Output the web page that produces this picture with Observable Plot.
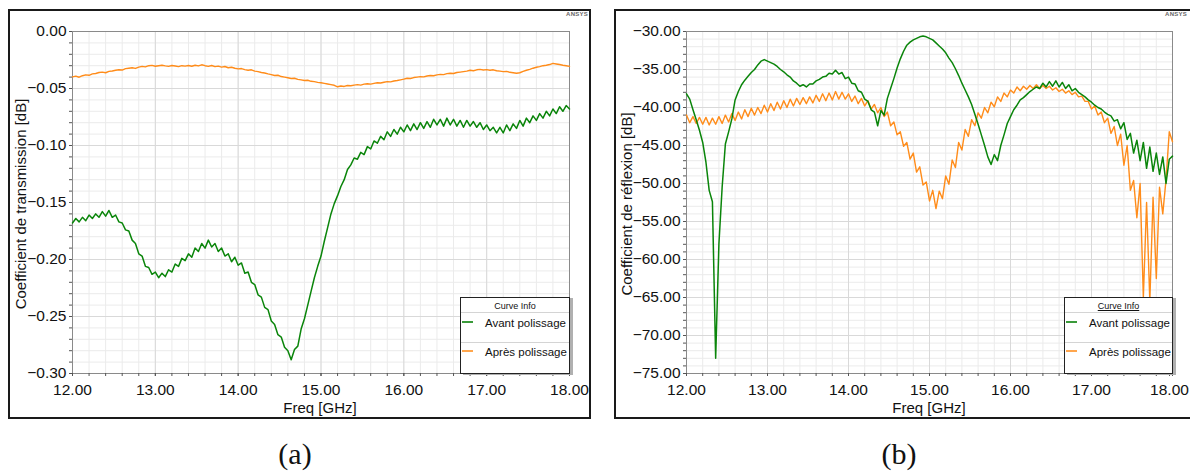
<!DOCTYPE html>
<html><head><meta charset="utf-8">
<script src="https://cdn.jsdelivr.net/npm/d3@7"></script>
<script src="https://cdn.jsdelivr.net/npm/@observablehq/plot@0.6"></script>
<style>
html,body{margin:0;padding:0;background:#fff;}
#root{position:relative;width:1190px;height:473px;overflow:hidden;font-family:"Liberation Sans",Arial,sans-serif;color:#111;}
.frame{position:absolute;border:2px solid #1a1a1a;box-sizing:border-box;}
.plot{position:absolute;top:0;}
.ytitle{position:absolute;font-size:15px;line-height:15px;white-space:nowrap;transform:translate(-50%,-50%) rotate(-90deg);}
.xtitle{position:absolute;font-size:15px;line-height:15px;white-space:nowrap;transform:translateX(-50%);}
.ansys{position:absolute;font-size:6px;font-weight:bold;color:#666;letter-spacing:0.3px;}
.legend{position:absolute;background:#fff;border:1px solid #222;box-shadow:3px 1px 0 #b0b0b0;box-sizing:border-box;}
.lh{position:absolute;top:3px;left:0;width:100%;text-align:center;font-size:9px;line-height:11px;}
.sep{position:absolute;left:0;right:0;height:1px;background:#d4d4d4;}
.sw{position:absolute;left:1px;width:11px;height:1.5px;}
.lt{position:absolute;left:24px;font-size:11.5px;line-height:14px;white-space:nowrap;}
.cap{position:absolute;font-family:"Liberation Serif","Times New Roman",serif;font-size:30px;line-height:30px;transform:translateX(-50%);}
</style>
</head>
<body>
<div id="root">
  <div class="frame" style="left:8px;top:9px;width:583px;height:410px"></div>
  <div class="frame" style="left:614px;top:9px;width:590px;height:410px"></div>
  <div id="pa" class="plot" style="left:0px"></div>
  <div id="pb" class="plot" style="left:595px"></div>
  <div class="ansys" style="left:566px;top:11px">ANSYS</div>
  <div class="ansys" style="left:1165px;top:11px">ANSYS</div>
  <div class="ytitle" style="left:19.5px;top:204px">Coefficient de transmission [dB]</div>
  <div class="ytitle" style="left:626px;top:204px">Coefficient de réflexion [dB]</div>
  <div class="xtitle" style="left:320px;top:400px">Freq [GHz]</div>
  <div class="xtitle" style="left:929px;top:400px">Freq [GHz]</div>
  <div class="legend" style="left:460px;top:297px;width:110px;height:77px">
    <div class="lh">Curve Info</div>
    <div class="sep" style="top:14px"></div>
    <div class="sw" style="top:23px;background:#3a9a3a"></div>
    <div class="lt" style="top:18px">Avant polissage</div>
    <div class="sep" style="top:44px"></div>
    <div class="sw" style="top:52px;background:#ffa64d"></div>
    <div class="lt" style="top:47px">Après polissage</div>
  </div>
  <div class="legend" style="left:1064px;top:297px;width:109px;height:77px">
    <div class="lh"><u>Curve Info</u></div>
    <div class="sep" style="top:14px"></div>
    <div class="sw" style="top:23px;background:#3a9a3a"></div>
    <div class="lt" style="top:18px">Avant polissage</div>
    <div class="sep" style="top:44px"></div>
    <div class="sw" style="top:52px;background:#ffa64d"></div>
    <div class="lt" style="top:47px">Après polissage</div>
  </div>
  <div class="cap" style="left:295px;top:439px">(a)</div>
  <div class="cap" style="left:899px;top:439px">(b)</div>
</div>
<script>
// Frequency sampling grid (GHz), 12.00 to 18.00 every 0.04
const freq = d3.range(151).map(i => +(12 + i * 0.04).toFixed(2));

// (a) transmission coefficient [dB]
const transAvant = [
-0.168,-0.164,-0.167,-0.163,-0.166,-0.161,-0.164,-0.160,-0.163,-0.158,
-0.162,-0.157,-0.163,-0.161,-0.167,-0.168,-0.174,-0.175,-0.183,-0.186,
-0.195,-0.197,-0.206,-0.207,-0.213,-0.211,-0.216,-0.212,-0.215,-0.209,
-0.211,-0.204,-0.206,-0.199,-0.201,-0.195,-0.198,-0.190,-0.193,-0.186,
-0.190,-0.183,-0.189,-0.186,-0.193,-0.190,-0.197,-0.195,-0.202,-0.198,
-0.205,-0.203,-0.212,-0.211,-0.220,-0.222,-0.231,-0.233,-0.242,-0.244,
-0.254,-0.257,-0.266,-0.268,-0.277,-0.280,-0.288,-0.279,-0.276,-0.261,
-0.252,-0.240,-0.228,-0.216,-0.206,-0.197,-0.184,-0.172,-0.160,-0.151,
-0.144,-0.136,-0.130,-0.121,-0.117,-0.111,-0.112,-0.106,-0.108,-0.101,
-0.103,-0.096,-0.098,-0.092,-0.095,-0.088,-0.092,-0.086,-0.090,-0.084,
-0.088,-0.082,-0.087,-0.081,-0.086,-0.080,-0.085,-0.079,-0.084,-0.077,
-0.082,-0.077,-0.083,-0.076,-0.082,-0.077,-0.083,-0.078,-0.084,-0.078,
-0.083,-0.079,-0.084,-0.080,-0.086,-0.082,-0.087,-0.084,-0.089,-0.084,
-0.089,-0.082,-0.087,-0.081,-0.085,-0.078,-0.083,-0.076,-0.080,-0.074,
-0.078,-0.072,-0.076,-0.070,-0.074,-0.068,-0.072,-0.066,-0.070,-0.065,
-0.068];
const transApres = [
-0.0398,-0.0392,-0.0401,-0.0388,-0.0380,-0.0384,-0.0372,-0.0368,-0.0360,-0.0356,
-0.0362,-0.0350,-0.0346,-0.0340,-0.0335,-0.0338,-0.0326,-0.0322,-0.0318,-0.0324,
-0.0312,-0.0306,-0.0310,-0.0300,-0.0297,-0.0305,-0.0300,-0.0296,-0.0302,-0.0306,
-0.0298,-0.0303,-0.0308,-0.0300,-0.0304,-0.0298,-0.0305,-0.0296,-0.0302,-0.0292,
-0.0300,-0.0306,-0.0298,-0.0308,-0.0304,-0.0312,-0.0307,-0.0318,-0.0314,-0.0322,
-0.0328,-0.0325,-0.0334,-0.0340,-0.0336,-0.0348,-0.0352,-0.0360,-0.0364,-0.0372,
-0.0378,-0.0386,-0.0384,-0.0395,-0.0400,-0.0406,-0.0412,-0.0410,-0.0420,-0.0424,
-0.0430,-0.0428,-0.0437,-0.0440,-0.0446,-0.0450,-0.0455,-0.0460,-0.0466,-0.0472,
-0.0485,-0.0478,-0.0482,-0.0474,-0.0476,-0.0470,-0.0466,-0.0470,-0.0462,-0.0458,
-0.0462,-0.0455,-0.0450,-0.0452,-0.0445,-0.0440,-0.0442,-0.0434,-0.0430,-0.0424,
-0.0418,-0.0410,-0.0412,-0.0404,-0.0400,-0.0396,-0.0398,-0.0390,-0.0386,-0.0388,
-0.0380,-0.0376,-0.0378,-0.0370,-0.0366,-0.0368,-0.0360,-0.0356,-0.0352,-0.0348,
-0.0340,-0.0344,-0.0336,-0.0332,-0.0338,-0.0334,-0.0340,-0.0336,-0.0344,-0.0348,
-0.0352,-0.0350,-0.0358,-0.0362,-0.0366,-0.0362,-0.0350,-0.0340,-0.0332,-0.0322,
-0.0314,-0.0308,-0.0300,-0.0296,-0.0290,-0.0280,-0.0285,-0.0290,-0.0296,-0.0300,
-0.0306];

// (b) reflection coefficient [dB]
const reflAvant = [
-38.2,-38.9,-40.3,-41.6,-43.0,-44.6,-47.2,-50.9,-52.4,-73.0,
-58.0,-50.5,-44.8,-43.2,-41.5,-39.0,-37.9,-37.0,-36.4,-35.9,
-35.4,-35.0,-34.4,-33.9,-33.7,-33.9,-34.1,-34.3,-34.6,-35.0,
-35.3,-35.7,-36.0,-36.5,-36.8,-37.2,-37.0,-37.3,-36.9,-36.9,
-36.5,-36.3,-36.0,-35.9,-35.5,-35.6,-35.1,-35.6,-35.4,-36.2,
-36.0,-36.8,-36.9,-37.8,-38.0,-38.9,-39.2,-40.3,-40.6,-42.4,
-40.4,-41.0,-38.8,-37.5,-36.2,-34.8,-33.6,-32.6,-31.8,-31.4,
-31.1,-30.9,-30.7,-30.6,-30.7,-30.9,-31.1,-31.5,-31.9,-32.3,
-32.8,-33.5,-34.1,-34.9,-35.8,-36.8,-37.7,-38.6,-39.6,-40.9,
-42.2,-43.6,-45.0,-46.5,-47.5,-46.2,-47.0,-45.0,-43.6,-42.1,
-41.2,-40.3,-39.7,-39.0,-38.7,-38.3,-37.9,-37.6,-37.3,-37.5,
-36.8,-37.3,-36.6,-37.2,-36.5,-37.3,-36.7,-37.5,-37.0,-37.8,
-37.5,-38.0,-38.3,-38.6,-39.0,-39.3,-39.7,-40.0,-40.2,-40.6,
-40.9,-41.1,-41.8,-41.6,-42.8,-42.0,-44.2,-43.4,-46.0,-44.3,
-47.0,-44.6,-48.0,-45.2,-48.4,-46.0,-48.8,-46.5,-50.0,-46.8,
-46.4];
const reflApres = [
-41.0,-42.0,-41.2,-42.1,-41.3,-42.2,-41.3,-42.3,-41.4,-42.2,
-41.2,-42.1,-41.0,-41.9,-40.8,-41.7,-40.6,-41.5,-40.3,-41.2,
-40.1,-41.0,-40.0,-40.8,-39.7,-40.6,-39.5,-40.4,-39.3,-40.2,
-39.1,-40.0,-38.9,-39.8,-38.8,-39.6,-38.7,-39.5,-38.6,-39.4,
-38.4,-39.2,-38.2,-39.1,-38.1,-39.0,-37.9,-38.9,-38.0,-38.9,
-38.2,-39.2,-38.5,-39.5,-38.8,-39.8,-39.1,-40.2,-39.6,-40.7,
-40.0,-41.2,-40.6,-42.4,-41.9,-43.6,-43.2,-45.1,-44.6,-46.8,
-46.0,-48.5,-47.8,-50.2,-49.8,-52.3,-50.9,-53.3,-51.0,-52.0,
-49.0,-50.1,-46.9,-47.9,-44.6,-45.6,-42.9,-43.8,-41.6,-42.4,
-40.7,-41.4,-40.0,-40.7,-39.3,-39.9,-38.6,-39.2,-38.1,-38.6,
-37.7,-38.1,-37.3,-37.8,-37.2,-37.6,-37.1,-37.5,-37.0,-37.5,
-37.1,-37.5,-37.2,-37.7,-37.4,-37.9,-37.6,-38.1,-37.8,-38.3,
-38.0,-38.6,-38.5,-39.2,-39.2,-40.2,-39.8,-41.0,-40.6,-42.0,
-41.4,-43.4,-42.5,-45.0,-43.5,-47.6,-45.0,-50.9,-49.6,-54.5,
-50.0,-65.0,-52.5,-65.5,-51.8,-62.5,-50.5,-54.0,-49.5,-43.2,
-44.5];

// Axis ticks
const xMajor = [12, 13, 14, 15, 16, 17, 18];
const xMinor = d3.range(0, 31).map(i => 12 + i * 0.2);
const yMajorA = [0, -0.05, -0.10, -0.15, -0.20, -0.25, -0.30];
const yMinorA = d3.range(0, 31).map(i => -i / 100);
const yMajorB = [-30, -35, -40, -45, -50, -55, -60, -65, -70, -75];
const yMinorB = d3.range(0, 46).map(i => -30 - i);

const GREEN = "#0a850a";
const ORANGE = "#ff8c1a";
const fmt = d3.format(".2f");
const style = {fontFamily: "'Liberation Sans', Arial, sans-serif", fontSize: "15.5px", color: "#111", background: "none", overflow: "visible"};

function panel({width, marginLeft, marginRight, yDomain, yMajor, yMinor, avant, apres, lastDx}) {
  const A = freq.map((f, i) => ({f, v: avant[i]}));
  const B = freq.map((f, i) => ({f, v: apres[i]}));
  return Plot.plot({
    width, height: 430,
    marginLeft, marginRight, marginTop: 31, marginBottom: 57,
    x: {domain: [12, 18]},
    y: {domain: yDomain},
    style,
    marks: [
      Plot.gridX(xMinor, {stroke: "#ebebeb", strokeOpacity: 1}),
      Plot.gridY(yMinor, {stroke: "#ebebeb", strokeOpacity: 1}),
      Plot.gridX(xMajor, {stroke: "#d9d9d9", strokeOpacity: 1}),
      Plot.gridY(yMajor, {stroke: "#d9d9d9", strokeOpacity: 1}),
      Plot.frame({stroke: "#8a8a8a"}),
      Plot.axisX(xMinor, {tickSize: 3, tickFormat: () => "", stroke: "#555", label: null}),
      Plot.axisX(xMajor.slice(0, -1), {tickSize: 3, tickPadding: 7, tickFormat: fmt, fontSize: 15.5, stroke: "#555", label: null}),
      Plot.axisX(xMajor.slice(-1), {tickSize: 3, tickPadding: 7, tickFormat: fmt, fontSize: 15.5, stroke: "#555", label: null, dx: lastDx}),
      Plot.axisY(yMinor, {tickSize: 3, tickFormat: () => "", stroke: "#555", label: null}),
      Plot.axisY(yMajor, {tickSize: 3, tickPadding: 3, tickFormat: fmt, fontSize: 15.5, stroke: "#555", label: null}),
      Plot.line(B, {x: "f", y: "v", stroke: ORANGE, strokeWidth: 1.4}),
      Plot.line(A, {x: "f", y: "v", stroke: GREEN, strokeWidth: 1.5})
    ]
  });
}

document.getElementById("pa").append(panel({
  width: 595, marginLeft: 72, marginRight: 26,
  yDomain: [-0.30, 0], yMajor: yMajorA, yMinor: yMinorA,
  avant: transAvant, apres: transApres, lastDx: 0
}));
document.getElementById("pb").append(panel({
  width: 595, marginLeft: 91, marginRight: 18,
  yDomain: [-75, -30], yMajor: yMajorB, yMinor: yMinorB,
  avant: reflAvant, apres: reflApres, lastDx: -3
}));
</script>
</body></html>
